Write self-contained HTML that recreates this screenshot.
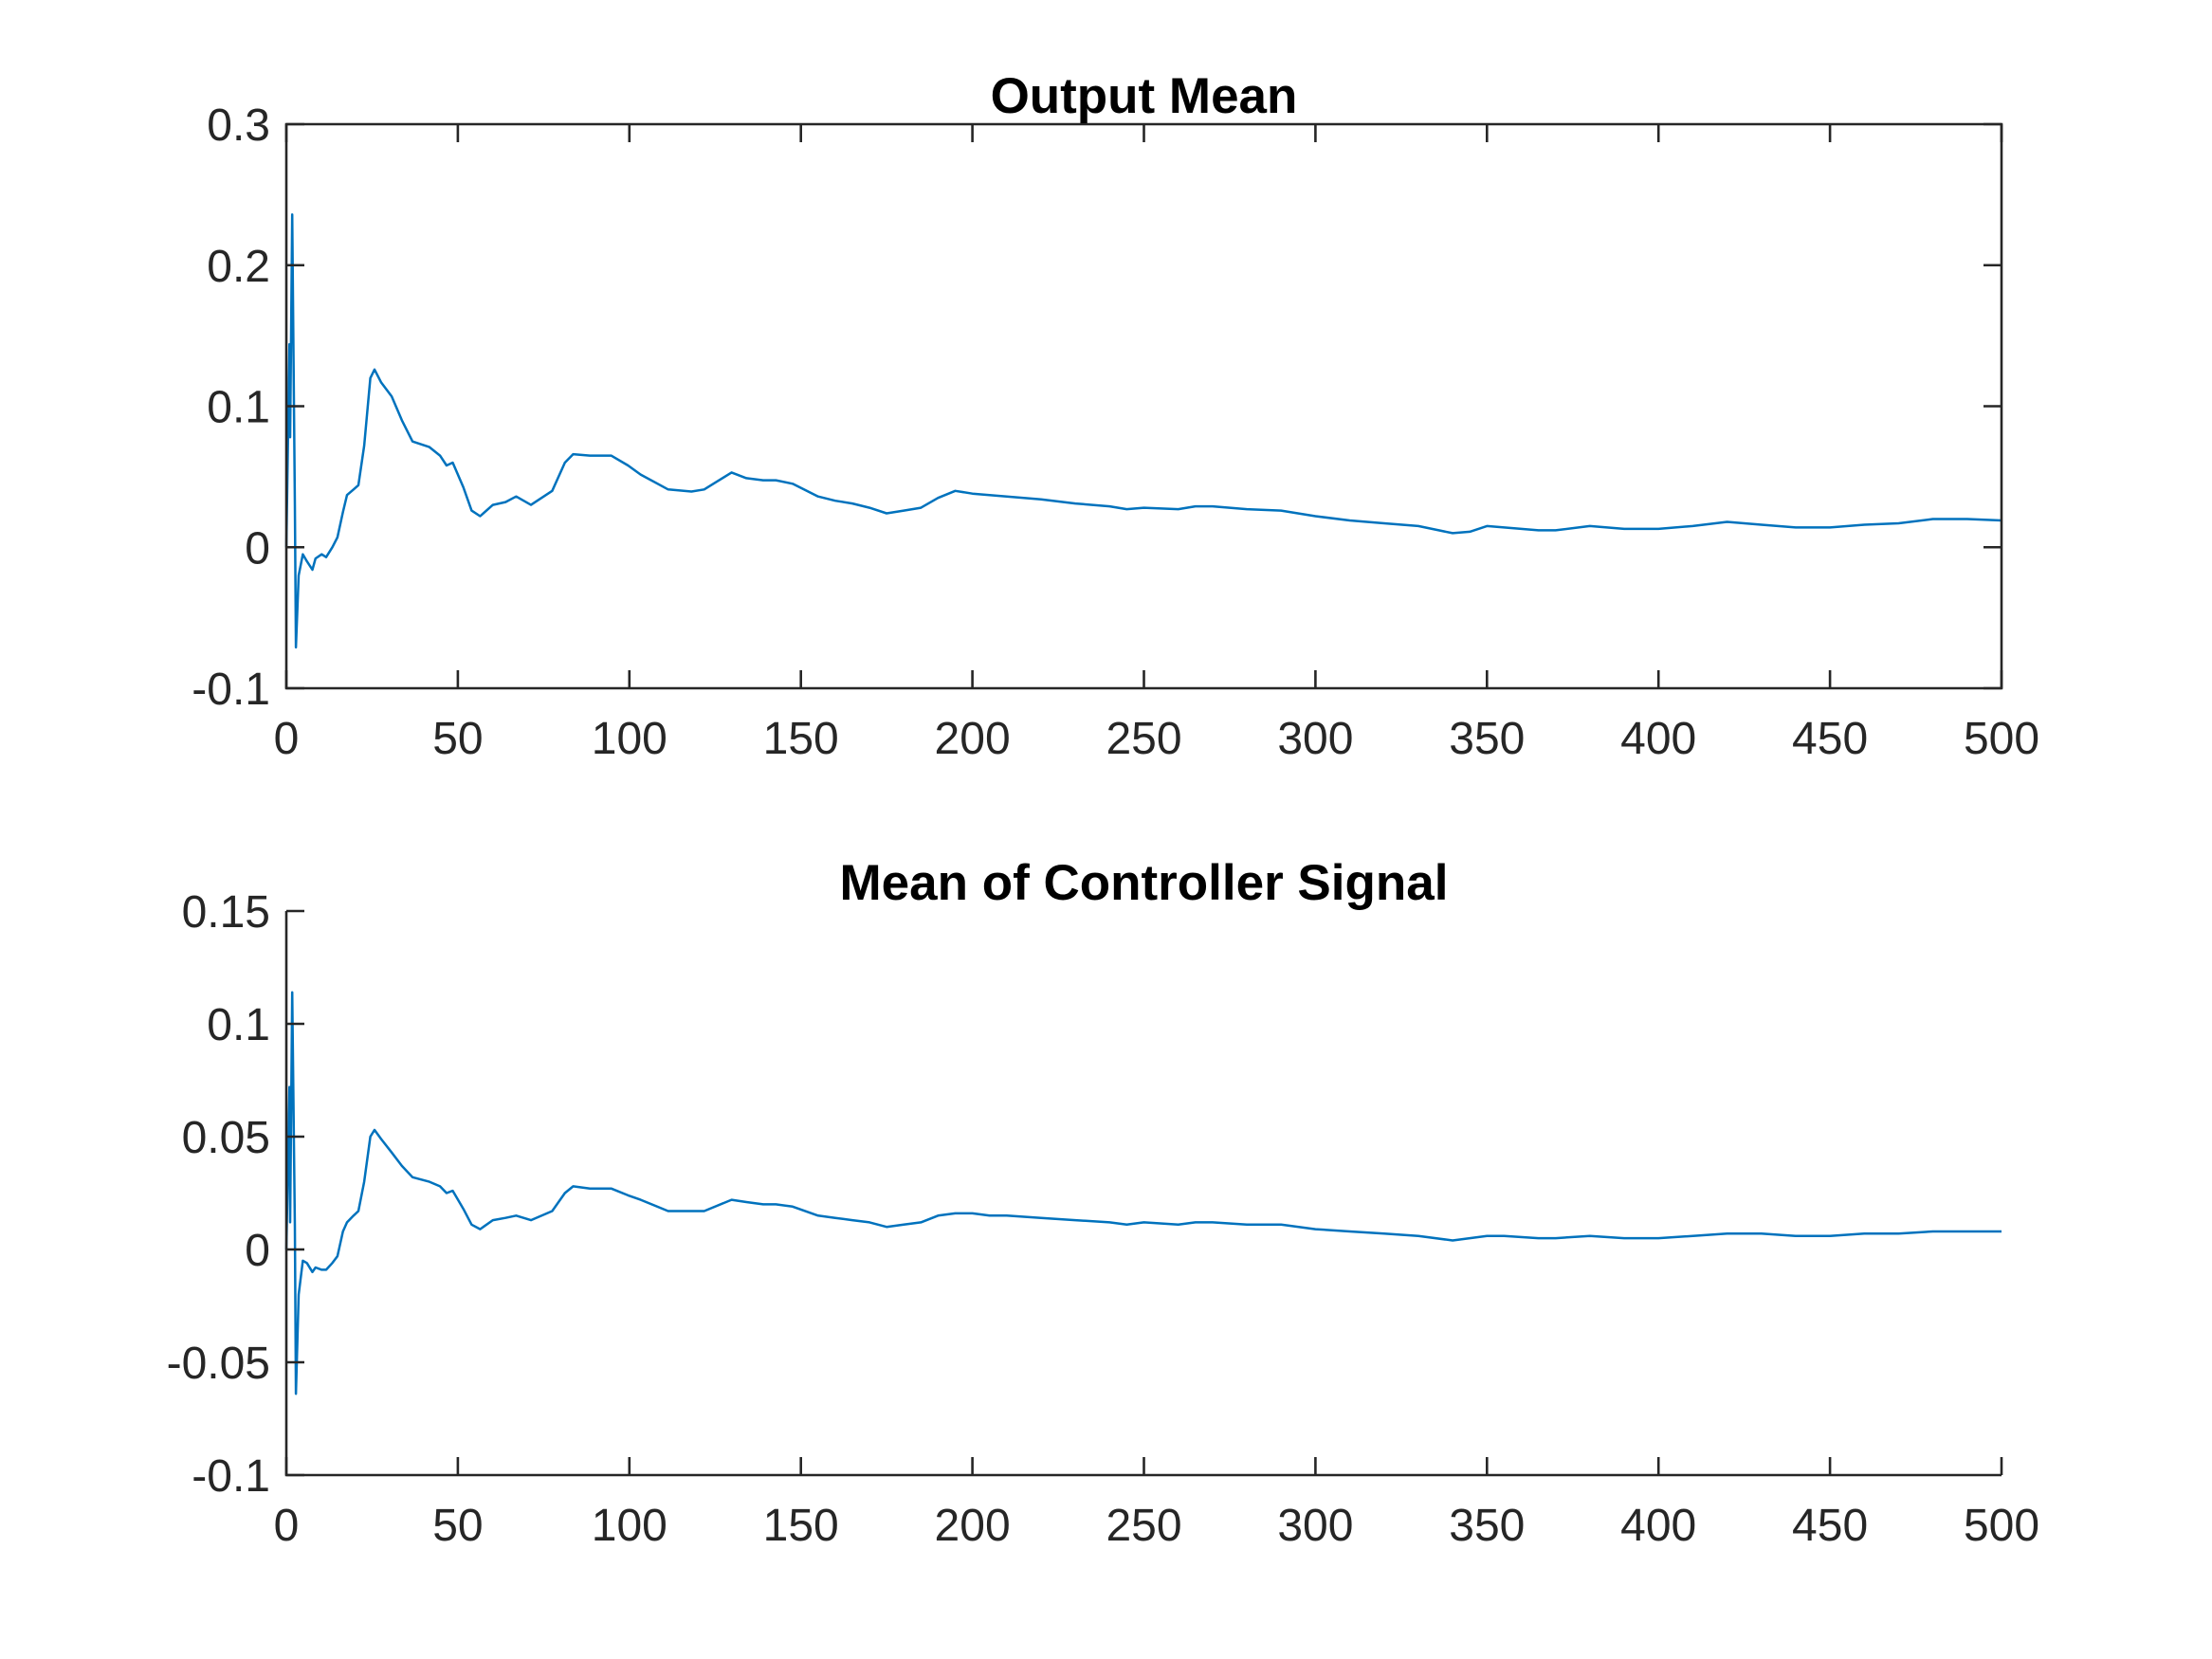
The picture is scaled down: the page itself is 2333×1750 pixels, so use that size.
<!DOCTYPE html>
<html><head><meta charset="utf-8">
<style>
html,body{margin:0;padding:0;background:#fff;}
svg{display:block;}
text{font-family:"Liberation Sans",Arial,sans-serif;}
</style></head>
<body>
<svg id="fig" width="2333" height="1750" viewBox="0 0 2333 1750" xmlns="http://www.w3.org/2000/svg">
<rect width="2333" height="1750" fill="#fff"/>
</svg>
<script>
const xTicks = [0,50,100,150,200,250,300,350,400,450,500];
const yTicksTop = [-0.1,0,0.1,0.2,0.3];
const yTickLabelsTop = ["-0.1","0","0.1","0.2","0.3"];
const yTicksBot = [-0.1,-0.05,0,0.05,0.1,0.15];
const yTickLabelsBot = ["-0.1","-0.05","0","0.05","0.1","0.15"];
const xVals = [0,0.9,1.1,1.7,2.5,2.8,3.6,4.8,6,7.6,8.5,10.3,11.6,13.4,14.9,16.5,17.7,19.6,21,22.7,24.5,25.7,27.6,30.7,33.7,36.8,41.7,44.8,46.7,48.5,51.6,54,56.5,60.2,63.9,67,71.3,77.5,81.2,83.6,88.5,94.7,99.6,103.3,111.3,118.1,121.8,129.8,134.1,139,142.7,147.6,155,160,165,170,175,180,185,190,195,200,205,210,220,230,240,245,250,260,265,270,280,290,300,310,320,330,340,345,350,355,365,370,380,390,400,410,420,430,440,450,460,470,480,490,500];
const outputMean = [0,0.144,0.078,0.236,0.03,-0.071,-0.02,-0.005,-0.01,-0.016,-0.008,-0.005,-0.007,0,0.007,0.025,0.037,0.041,0.044,0.072,0.12,0.126,0.117,0.107,0.09,0.075,0.071,0.065,0.058,0.06,0.0425,0.026,0.022,0.03,0.032,0.036,0.03,0.04,0.06,0.066,0.065,0.065,0.058,0.0515,0.041,0.0395,0.041,0.053,0.049,0.0475,0.0475,0.045,0.036,0.033,0.031,0.028,0.024,0.026,0.028,0.035,0.04,0.038,0.037,0.036,0.034,0.031,0.029,0.027,0.028,0.027,0.029,0.029,0.027,0.026,0.022,0.019,0.017,0.015,0.01,0.011,0.015,0.014,0.012,0.012,0.015,0.013,0.013,0.015,0.018,0.016,0.014,0.014,0.016,0.017,0.02,0.02,0.019];
const controllerMean = [0,0.072,0.012,0.114,0.01,-0.064,-0.02,-0.005,-0.006,-0.01,-0.008,-0.009,-0.009,-0.006,-0.003,0.008,0.012,0.015,0.017,0.03,0.05,0.053,0.049,0.043,0.037,0.032,0.03,0.028,0.025,0.026,0.018,0.011,0.009,0.013,0.014,0.015,0.013,0.017,0.025,0.028,0.027,0.027,0.024,0.022,0.017,0.017,0.017,0.022,0.021,0.020,0.020,0.019,0.015,0.014,0.013,0.012,0.010,0.011,0.012,0.015,0.016,0.016,0.015,0.015,0.014,0.013,0.012,0.011,0.012,0.011,0.012,0.012,0.011,0.011,0.009,0.008,0.007,0.006,0.004,0.005,0.006,0.006,0.005,0.005,0.006,0.005,0.005,0.006,0.007,0.007,0.006,0.006,0.007,0.007,0.008,0.008,0.008];

const NS = "http://www.w3.org/2000/svg";
const svg = document.getElementById('fig');
const L = 302, R = 2111, AX = "#262626";
function mk(tag, attrs, parent){ const e=document.createElementNS(NS,tag); for(const k in attrs) e.setAttribute(k,attrs[k]); (parent||svg).appendChild(e); return e; }

function panel(name, top, bottom, yMin, yMax, yTicks, yLabels, title, series, box){
  const g = mk('g',{});
  
  
  const sx = v => L + (v - 0) / 500 * (R - L);
  const sy = v => bottom - (v - yMin) / (yMax - yMin) * (bottom - top);
  // line
  let d = '';
  for (let i = 0; i < xVals.length; i++) d += (i ? 'L' : 'M') + sx(xVals[i]).toFixed(1) + ' ' + sy(series[i]).toFixed(1);
  const p = mk('path',{d:d, fill:'none', stroke:'#0072BD', 'stroke-width':2.5, 'stroke-linejoin':'round'}, g);
  
  
  // axes
  const ax = mk('path',{d: box ? `M${L} ${top}H${R}V${bottom}H${L}Z` : `M${L} ${top}V${bottom}H${R}`, fill:'none', stroke:AX, 'stroke-width':2.6}, g);
  
  
  const T = 19;
  xTicks.forEach(v => {
    const x = sx(v);
    mk('line',{x1:x,x2:x,y1:bottom,y2:bottom-T,stroke:AX,'stroke-width':2.6}, g);
    if (box) mk('line',{x1:x,x2:x,y1:top,y2:top+T,stroke:AX,'stroke-width':2.6}, g);
    const t = mk('text',{x:x, y:bottom+69, 'text-anchor':'middle', 'font-size':48, fill:AX}, g);
    t.textContent = String(v);
    
    
  });
  yTicks.forEach((v, i) => {
    const y = sy(v);
    mk('line',{x1:L,x2:L+T,y1:y,y2:y,stroke:AX,'stroke-width':2.6}, g);
    if (box) mk('line',{x1:R,x2:R-T,y1:y,y2:y,stroke:AX,'stroke-width':2.6}, g);
    const t = mk('text',{x:285, y:y+17, 'text-anchor':'end', 'font-size':48, fill:AX}, g);
    t.textContent = yLabels[i];
    
    
  });
  const tt = mk('text',{x:(L+R)/2, y:top-12, 'text-anchor':'middle', 'font-size':53, 'font-weight':'bold', fill:'#000'}, g);
  tt.textContent = title;
  
  
}
panel('output-mean-panel', 131, 726, -0.1, 0.3, yTicksTop, yTickLabelsTop, 'Output Mean', outputMean, true);
panel('controller-mean-panel', 961, 1556, -0.1, 0.15, yTicksBot, yTickLabelsBot, 'Mean of Controller Signal', controllerMean, false);
</script>
</body></html>
